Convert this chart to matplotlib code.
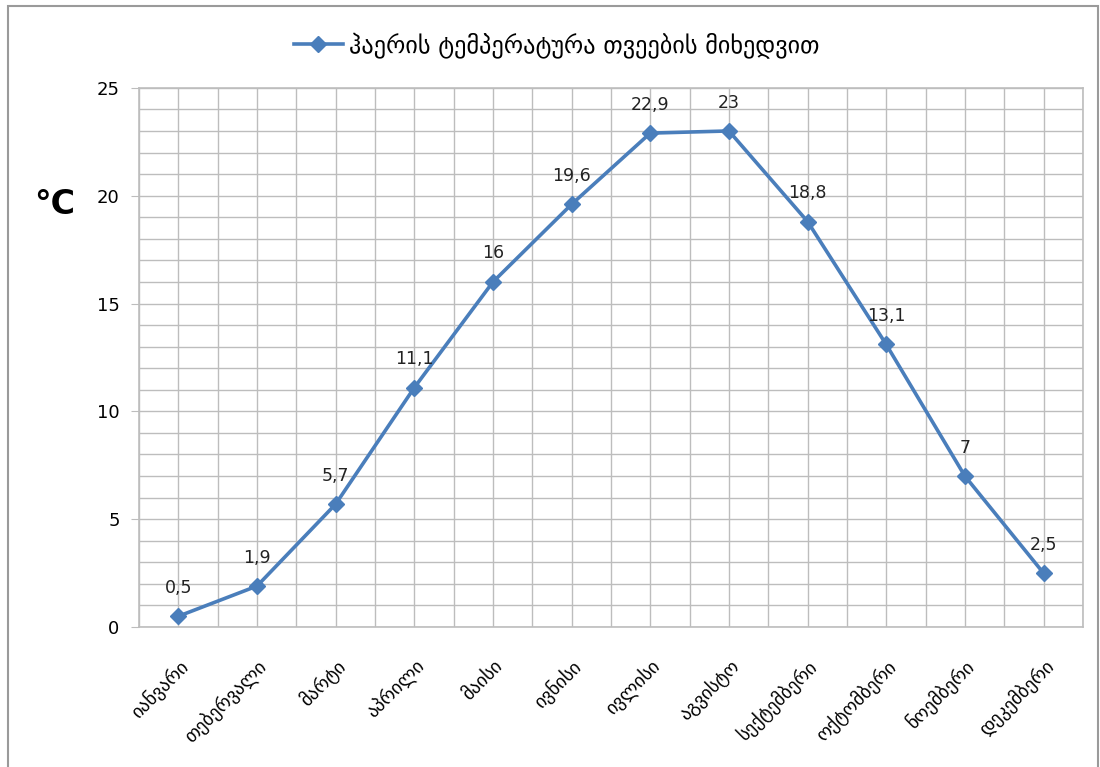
import numpy as np
import matplotlib.pyplot as plt
from matplotlib.patches import Rectangle

months = ['იანვარი', 'თებერვალი', 'მარტი', 'აპრილი', 'მაისი', 'ივნისი',
          'ივლისი', 'აგვისტო', 'სექტემბერი', 'ოქტომბერი', 'ნოემბერი', 'დეკემბერი']
temps = [0.5, 1.9, 5.7, 11.1, 16, 19.6, 22.9, 23, 18.8, 13.1, 7, 2.5]
series_name = 'ჰაერის ტემპერატურა თვეების მიხედვით'

plt.rcParams['font.family'] = ['DejaVu Sans']
blue = '#4a7ebb'
grid_c = '#bdbdbd'

fig = plt.figure(figsize=(11, 7.67), dpi=100)
ax = fig.add_axes([0.1264, 0.1825, 0.858, 0.703])

x = np.arange(len(months))
ax.plot(x, temps, color=blue, lw=2.6, marker='D', markersize=8.5,
        label=series_name, zorder=3, clip_on=False)

for xi, t in zip(x, temps):
    lab = ('%g' % t).replace('.', ',')
    ax.annotate(lab, (xi, t), xytext=(0, 14), textcoords='offset points',
                ha='center', va='bottom', fontsize=12.5, color='#222222')

ax.set_xlim(-0.5, len(months) - 0.5)
ax.set_ylim(0, 25)
ax.set_yticks(range(0, 26, 5))
ax.set_yticks(range(0, 26), minor=True)
ax.set_xticks(x)
ax.set_xticks(np.arange(-0.5, len(months), 0.5), minor=True)
ax.set_xticklabels(months, rotation=45, ha='right', rotation_mode='anchor', fontsize=13.5)

ax.tick_params(axis='y', which='major', length=6, color=grid_c, labelsize=13, pad=8)
ax.tick_params(axis='y', which='minor', length=0)
ax.tick_params(axis='x', which='both', length=0, pad=21)
ax.grid(which='both', color=grid_c, lw=1)
ax.set_axisbelow(True)
for s in ax.spines.values():
    s.set_color(grid_c)
    s.set_linewidth(1.2)

fig.text(0.05, 0.733, '°C', fontsize=24, fontweight='bold', ha='center', va='center')

fig.legend(loc='center', bbox_to_anchor=(0.506, 0.941), frameon=False,
           fontsize=17.5, handlelength=2.0, handletextpad=0.25)

fig.patches.append(Rectangle((8 / 1100, -0.05), 1090 / 1100, 1.05 - 6 / 767,
                             transform=fig.transFigure, fill=False,
                             edgecolor='#9a9a9a', lw=1.5))

fig.savefig('out.png', dpi=100)
